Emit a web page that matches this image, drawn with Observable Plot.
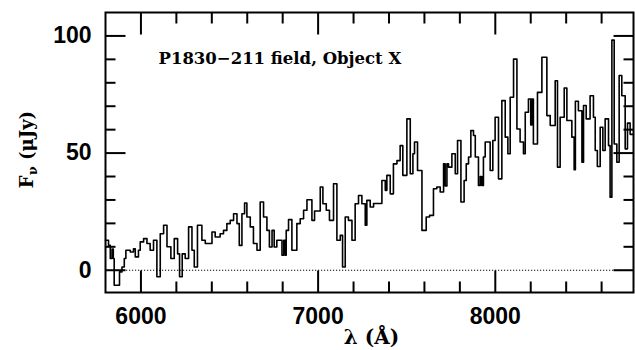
<!DOCTYPE html>
<html>
<head>
<meta charset="utf-8">
<script src="https://cdn.jsdelivr.net/npm/d3@7"></script>
<script src="https://cdn.jsdelivr.net/npm/@observablehq/plot@0.6"></script>
<style>
  html, body { margin: 0; padding: 0; background: #fff; }
</style>
</head>
<body>
<div id="chart"></div>
<script>
// Spectrum (step function): bin start wavelength (Å) and flux density (μJy)
const wavelength = [
  5800, 5817, 5827, 5837, 5844, 5849, 5879, 5893, 5906, 5915, 5940, 5958, 5968, 5986, 5996,
  6015, 6034, 6052, 6071, 6090, 6109, 6128, 6147, 6169, 6188, 6207, 6218, 6233, 6250, 6269,
  6288, 6301, 6319, 6344, 6363, 6401, 6419, 6447, 6466, 6485, 6504, 6523, 6542, 6555, 6570,
  6585, 6598, 6617, 6635, 6655, 6673, 6692, 6711, 6725, 6740, 6752, 6767, 6796, 6806, 6814,
  6820, 6833, 6852, 6880, 6899, 6918, 6937, 6965, 6980, 7012, 7027, 7046, 7064, 7087, 7106,
  7125, 7138, 7153, 7171, 7191, 7209, 7228, 7247, 7266, 7275, 7294, 7313, 7360, 7379, 7388,
  7407, 7425, 7445, 7463, 7478, 7501, 7520, 7535, 7544, 7561, 7586, 7610, 7629, 7651, 7670,
  7689, 7708, 7717, 7727, 7736, 7755, 7774, 7787, 7806, 7824, 7836, 7849, 7862, 7877, 7887,
  7905, 7915, 7924, 7933, 7943, 7971, 7986, 7999, 8018, 8037, 8056, 8071, 8084, 8103, 8122,
  8140, 8159, 8169, 8187, 8200, 8207, 8215, 8238, 8263, 8291, 8310, 8338, 8351, 8366, 8389,
  8404, 8432, 8445, 8452, 8469, 8489, 8498, 8513, 8535, 8554, 8564, 8576, 8592, 8607, 8620,
  8639, 8648, 8658, 8671, 8686, 8699, 8714, 8733, 8746, 8761, 8780
];
const flux = [
  12.8, 10.6, 5.0, 9.0, 5.0, -6.4, -0.7, 1.4, 5.0, 8.5, 7.8, 9.2, 5.7, 8.5, 12.1,
  13.5, 11.4, 8.5, 12.8, -2.8, 15.6, 19.2, 10.0, 5.0, 13.5, 7.0, -2.8, 7.0, 5.0, 18.5,
  8.5, 1.4, 19.2, 12.8, 11.4, 16.3, 14.2, 15.6, 17.0, 19.9, 21.3, 24.1, 19.9, 10.6, 24.1,
  28.7, 22.7, 18.5, 11.4, 8.5, 29.1, 22.7, 17.0, 9.9, 17.0, 9.9, 12.8, 6.4, 12.8, 6.4,
  17.0, 21.6, 8.5, 19.9, 22.0, 25.6, 30.1, 21.3, 25.3, 35.5, 28.4, 25.6, 21.3, 36.9, 12.8,
  14.9, 1.4, 22.7, 21.3, 12.8, 28.4, 31.9, 28.4, 19.2, 29.8, 27.0, 28.5, 38.3, 34.1, 40.5,
  32.6, 45.4, 46.8, 53.2, 40.5, 64.6, 41.2, 49.7, 54.7, 42.6, 17.0, 22.7, 23.4, 34.8, 35.5,
  33.4, 45.4, 36.0, 45.4, 44.0, 49.7, 41.2, 55.4, 29.1, 38.3, 45.4, 48.3, 59.6, 57.5, 48.3,
  36.2, 40.0, 36.2, 48.3, 54.7, 42.6, 55.4, 65.3, 39.0, 72.4, 56.8, 49.7, 73.8, 90.1, 60.3,
  54.7, 49.7, 67.4, 73.1, 62.0, 73.1, 53.9, 75.9, 90.9, 66.0, 61.8, 80.9, 44.0, 65.3, 77.8,
  63.9, 56.8, 42.9, 72.1, 68.1, 46.1, 70.3, 64.6, 74.5, 65.3, 51.1, 44.3, 61.0, 51.1, 64.6,
  53.2, 31.2, 98.2, 53.9, 46.1, 83.1, 74.5, 51.8, 62.8, 58.0, 58.0
];

const xMajorTicks = [6000, 7000, 8000];
const xMinorTicks = [6200, 6400, 6600, 6800, 7200, 7400, 7600, 7800, 8200, 8400, 8600];
const yMajorTicks = [0, 50, 100];
const yMinorTicks = [10, 20, 30, 40, 60, 70, 80, 90];

const titleText = "P1830\u2212211 field, Object X";
const xLabel = "\u03BB (\u00C5)";
const yLabel = "F\u03BD (\u03BCJy)";

const xDomain = [5800, 8780];
const yDomain = [-9.5, 110];

const data = wavelength.map((w, i) => ({w, f: flux[i]}));

const serif = "DejaVu Serif";
const sans = "Liberation Sans";

// layout (pixels)
const W = 635, H = 350, mL = 105, mR = 2, mT = 12, mB = 58;
const frameW = W - mL - mR, frameH = H - mT - mB;

// tick lengths in pixels, converted to scale units so each tick is a short segment inside the frame
const yPerPx = (yDomain[1] - yDomain[0]) / frameH;
const xPerPx = (xDomain[1] - xDomain[0]) / frameW;
const xTickLen = {major: 22, minor: 11};
const yTickLen = {major: 20, minor: 10};

// build two-point segments for every inward tick (bottom, top, left, right)
const tickSegments = [];
let segId = 0;
function addXTicks(values, len) {
  for (const v of values) {
    const h = len * yPerPx;
    tickSegments.push({id: segId, x: v, y: yDomain[0]}, {id: segId, x: v, y: yDomain[0] + h}); segId++;
    tickSegments.push({id: segId, x: v, y: yDomain[1] - h}, {id: segId, x: v, y: yDomain[1]}); segId++;
  }
}
function addYTicks(values, len) {
  for (const v of values) {
    const w = len * xPerPx;
    tickSegments.push({id: segId, x: xDomain[0], y: v}, {id: segId, x: xDomain[0] + w, y: v}); segId++;
    tickSegments.push({id: segId, x: xDomain[1] - w, y: v}, {id: segId, x: xDomain[1], y: v}); segId++;
  }
}
addXTicks(xMajorTicks, xTickLen.major);
addXTicks(xMinorTicks, xTickLen.minor);
addYTicks(yMajorTicks, yTickLen.major);
addYTicks(yMinorTicks, yTickLen.minor);

const chart = Plot.plot({
  width: W,
  height: H,
  marginLeft: mL,
  marginRight: mR,
  marginTop: mT,
  marginBottom: mB,
  x: {domain: xDomain, axis: null},
  y: {domain: yDomain, axis: null},
  style: {background: "white", color: "black", overflow: "visible"},
  marks: [
    Plot.ruleY([0], {stroke: "black", strokeWidth: 1, strokeDasharray: "1.2,1.8"}),
    Plot.line(data, {x: "w", y: "f", curve: "step-after", stroke: "black", strokeWidth: 1.6}),
    // inward ticks drawn as path segments
    Plot.line(tickSegments, {x: "x", y: "y", z: "id", stroke: "black", strokeWidth: 2, strokeLinecap: "butt"}),
    Plot.frame({stroke: "black", strokeWidth: 2}),
    // tick labels
    Plot.axisX(xMajorTicks, {anchor: "bottom", tickSize: 0, tickPadding: 15, tickFormat: d => `${d}`, label: null,
      fontSize: 23, fontFamily: sans, fontWeight: "bold"}),
    Plot.axisY(yMajorTicks, {anchor: "left", tickSize: 0, tickPadding: 14, tickFormat: d => `${d}`, label: null,
      fontSize: 23, fontFamily: sans, fontWeight: "bold"}),
    // in-plot title
    Plot.text([titleText], {frameAnchor: "top-left", dx: 53, dy: 40, textAnchor: "start", lineAnchor: "top",
      fontSize: 16.5, fontFamily: serif, fontWeight: "bold"}),
    // axis labels
    Plot.text([xLabel], {frameAnchor: "bottom", dx: 2, dy: 37, lineAnchor: "top", textAnchor: "middle",
      fontSize: 20, fontFamily: serif, fontWeight: "bold"}),
    Plot.text([yLabel], {frameAnchor: "left", dx: -78, dy: -3, rotate: -90, lineAnchor: "middle", textAnchor: "middle",
      fontSize: 18, fontFamily: serif, fontWeight: "bold", className: "ylab"})
  ]
});

// subscript ν in the y label
const yl = d3.select(chart).select("g.ylab text");
if (!yl.empty()) {
  yl.text(null);
  yl.append("tspan").text("F");
  yl.append("tspan").attr("font-size", "13").attr("dy", "4").text("\u03BD");
  yl.append("tspan").attr("dy", "-4").text(" (\u03BCJy)");
}

document.getElementById("chart").appendChild(chart);
</script>
</body>
</html>
